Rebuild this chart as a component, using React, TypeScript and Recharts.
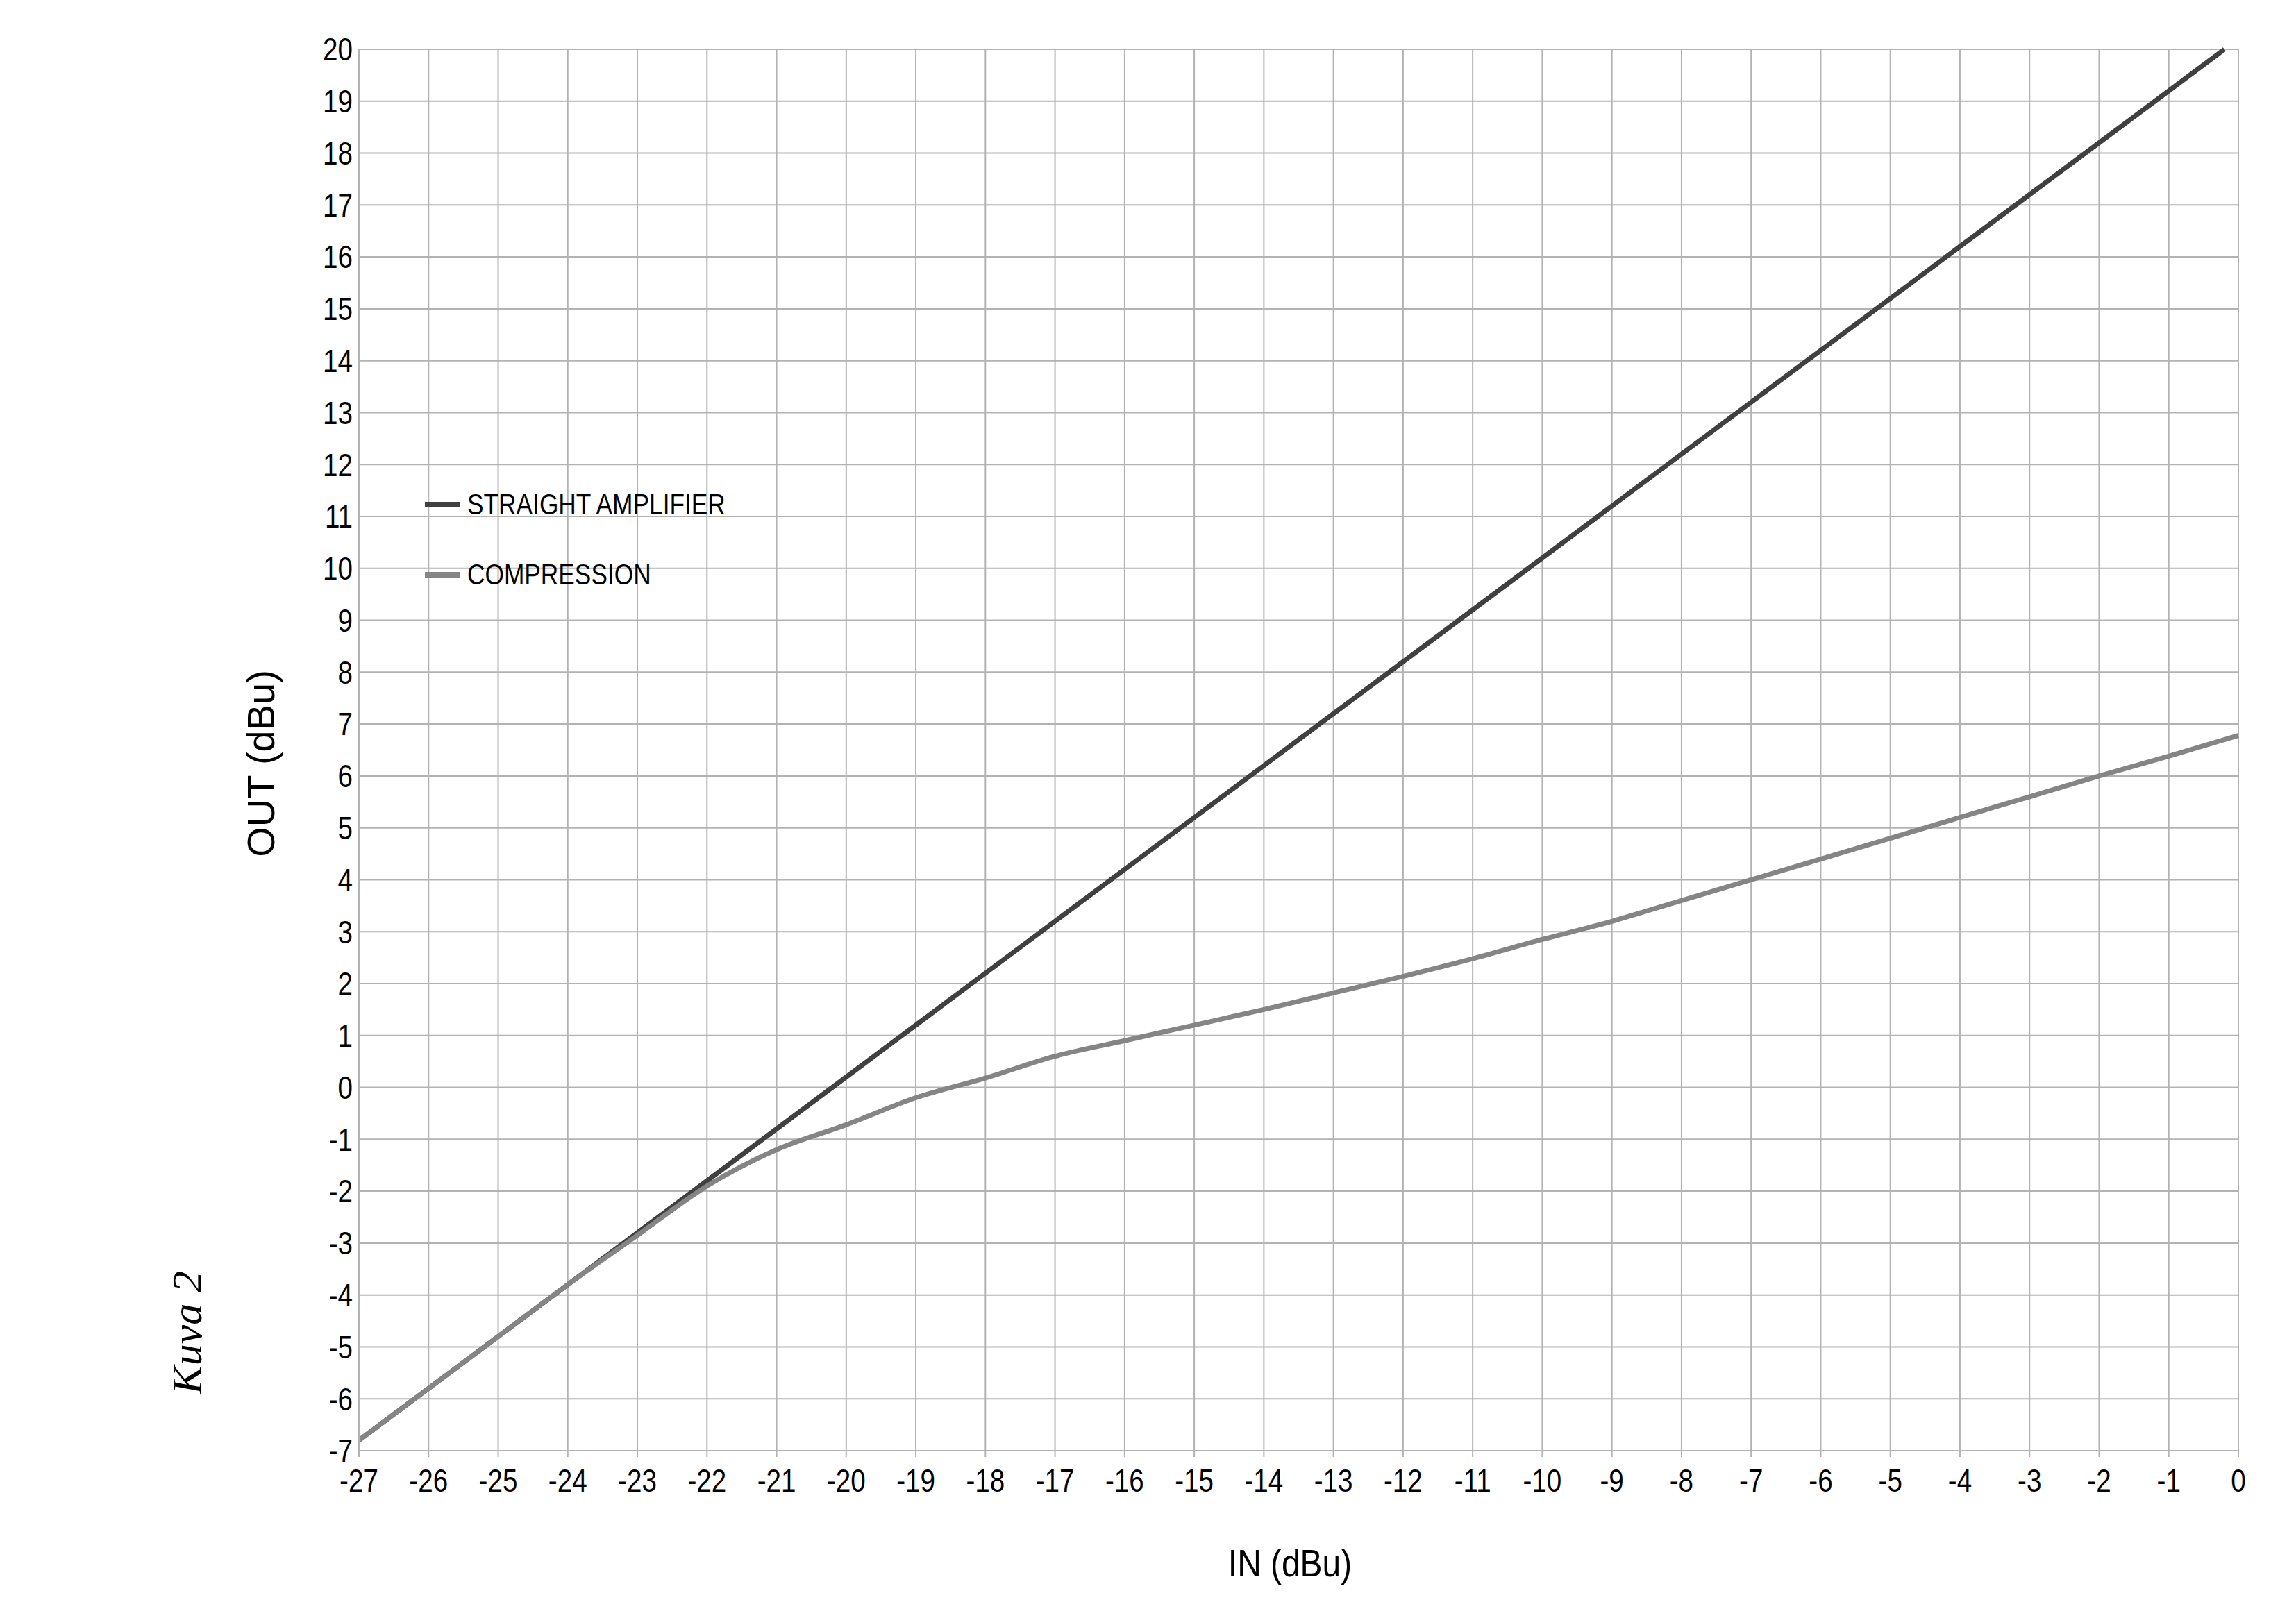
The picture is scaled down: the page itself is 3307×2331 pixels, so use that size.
import { CartesianGrid, Legend, Line, LineChart, XAxis, YAxis } from "recharts";

// IN (dBu) values on the x axis
const inputLevels = [
  -27, -26, -25, -24, -23, -22, -21, -20, -19, -18, -17, -16, -15, -14,
  -13, -12, -11, -10, -9, -8, -7, -6, -5, -4, -3, -2, -1, 0,
];

// OUT (dBu) for the straight amplifier, nothing drawn at 0
const straightAmplifier = [
  -6.8, -5.8, -4.8, -3.8, -2.8, -1.8, -0.8, 0.2, 1.2, 2.2, 3.2, 4.2, 5.2, 6.2,
  7.2, 8.2, 9.2, 10.2, 11.2, 12.2, 13.2, 14.2, 15.2, 16.2, 17.2, 18.2, 19.2, null,
];
const straightEnd = { x: -0.2, out: 20 };

// OUT (dBu) with compression
const compression = [
  -6.8, -5.8, -4.8, -3.8, -2.85, -1.9, -1.2, -0.72, -0.2, 0.18, 0.6, 0.9, 1.2, 1.5,
  1.82, 2.14, 2.48, 2.85, 3.2, 3.6, 4.0, 4.4, 4.8, 5.2, 5.6, 6.0, 6.38, 6.78,
];

const outTicks = [
  -7, -6, -5, -4, -3, -2, -1, 0, 1, 2, 3, 4, 5, 6, 7, 8, 9, 10, 11, 12, 13,
  14, 15, 16, 17, 18, 19, 20,
];

const seriesOrder = ["STRAIGHT AMPLIFIER", "COMPRESSION"];

const rows = [
  ...inputLevels.map((x, i) => ({
    x,
    straight: straightAmplifier[i],
    compression: compression[i],
  })),
  { x: straightEnd.x, straight: straightEnd.out, compression: null },
].sort((a, b) => a.x - b.x);

const sans = "'Liberation Sans', Arial, sans-serif";
const gridColor = "#b3b3b3";
// the original uses a condensed face; squeeze Liberation Sans to match
const squeeze = 0.84;

function NarrowTick({ x, y, payload, textAnchor, vertical }: any) {
  return (
    <g transform={`translate(${x},${y}) scale(${squeeze},1)`}>
      <text
        x={0}
        y={0}
        dy={vertical ? "0.355em" : "0.71em"}
        textAnchor={textAnchor}
        fill="#000"
        fontSize={46}
        fontFamily={sans}
      >
        {payload.value}
      </text>
    </g>
  );
}

function LegendBox({ payload }: any) {
  const items = [...(payload || [])].sort(
    (a: any, b: any) => seriesOrder.indexOf(a.value) - seriesOrder.indexOf(b.value)
  );
  return (
    <div style={{ fontFamily: sans, fontSize: 42, color: "#000" }}>
      {items.map((entry: any) => (
        <div
          key={entry.value}
          style={{ display: "flex", alignItems: "center", height: 101 }}
        >
          <div style={{ width: 51, height: 8, background: entry.color }} />
          <span
            style={{
              marginLeft: 10,
              lineHeight: 1,
              whiteSpace: "nowrap",
              display: "inline-block",
              transform: `scaleX(${squeeze})`,
              transformOrigin: "left center",
            }}
          >
            {entry.value}
          </span>
        </div>
      ))}
    </div>
  );
}

export default function App() {
  return (
    <div
      style={{
        position: "absolute",
        left: 0,
        top: 0,
        width: 3307,
        height: 2331,
        background: "#fff",
      }}
    >
      <LineChart
        width={3307}
        height={2331}
        data={rows}
        margin={{ top: 71, right: 83, bottom: 41, left: 317 }}
      >
        <CartesianGrid stroke={gridColor} strokeWidth={2} />
        <XAxis
          type="number"
          dataKey="x"
          domain={[-27, 0]}
          ticks={inputLevels}
          interval={0}
          height={200}
          axisLine={{ stroke: gridColor, strokeWidth: 2 }}
          tickLine={{ stroke: gridColor, strokeWidth: 2 }}
          tickSize={9}
          tickMargin={17}
          tick={<NarrowTick />}
        />
        <YAxis
          type="number"
          domain={[-7, 20]}
          ticks={outTicks}
          interval={0}
          width={200}
          axisLine={{ stroke: gridColor, strokeWidth: 2 }}
          tickLine={false}
          tickSize={0}
          tickMargin={9}
          tick={<NarrowTick vertical />}
        />
        <Legend
          verticalAlign="middle"
          align="center"
          layout="vertical"
          content={<LegendBox />}
          wrapperStyle={{ position: "absolute", left: 612, top: 676, width: 600 }}
        />
        <Line
          type="linear"
          dataKey="straight"
          name="STRAIGHT AMPLIFIER"
          stroke="#404040"
          strokeWidth={7}
          dot={false}
          activeDot={false}
          isAnimationActive={false}
        />
        <Line
          type="monotone"
          dataKey="compression"
          name="COMPRESSION"
          stroke="#858585"
          strokeWidth={7}
          dot={false}
          activeDot={false}
          connectNulls
          isAnimationActive={false}
        />
      </LineChart>

      <div
        style={{
          position: "absolute",
          left: 376,
          top: 1100,
          transform: "translate(-50%, -50%) rotate(-90deg)",
          whiteSpace: "nowrap",
          fontFamily: sans,
          fontSize: 56,
          lineHeight: 1,
          color: "#000",
        }}
      >
        OUT (dBu)
      </div>
      <div
        style={{
          position: "absolute",
          left: 1858,
          top: 2252,
          transform: "translate(-50%, -50%) scaleX(0.855)",
          whiteSpace: "nowrap",
          fontFamily: sans,
          fontSize: 56,
          lineHeight: 1,
          color: "#000",
        }}
      >
        IN (dBu)
      </div>
      <div
        style={{
          position: "absolute",
          left: 269,
          top: 1920,
          transform: "translate(-50%, -50%) rotate(-90deg)",
          whiteSpace: "nowrap",
          fontFamily: "'Liberation Serif', 'DejaVu Serif', serif",
          fontStyle: "italic",
          fontSize: 62,
          lineHeight: 1,
          color: "#000",
        }}
      >
        Kuva 2
      </div>
    </div>
  );
}
